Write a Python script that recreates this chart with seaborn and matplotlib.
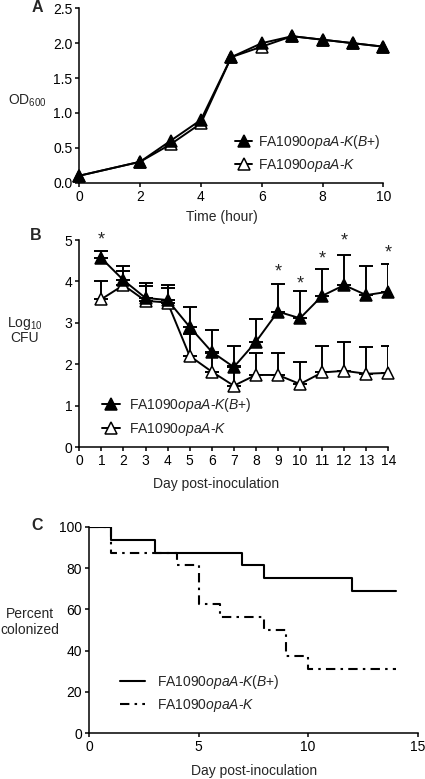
import numpy as np
import pandas as pd
import matplotlib
matplotlib.use("Agg")
import matplotlib.pyplot as plt
import seaborn as sns
from matplotlib.lines import Line2D

# ---- panel A: growth curve ----
hours = [0, 2, 3, 4, 5, 6, 7, 8, 9, 10]
od_bplus = [0.10, 0.30, 0.60, 0.90, 1.80, 2.00, 2.10, 2.05, 2.00, 1.95]
od_k = [0.10, 0.30, 0.55, 0.85, 1.80, 1.95, 2.10, 2.05, 2.00, 1.95]

# ---- panel B: colonization load ----
days = list(range(1, 15))
cfu_bplus = [4.56, 4.03, 3.60, 3.55, 2.90, 2.30, 1.93, 2.54, 3.27, 3.11, 3.65, 3.91, 3.67, 3.75]
cfu_bplus_top = [4.73, 4.38, 3.95, 3.91, 3.39, 2.83, 2.44, 3.09, 3.94, 3.77, 4.30, 4.64, 4.38, 4.43]
cfu_k = [3.57, 3.91, 3.53, 3.49, 2.20, 1.82, 1.48, 1.74, 1.74, 1.52, 1.80, 1.84, 1.77, 1.79]
cfu_k_top = [4.00, 4.25, 3.89, 3.85, 2.73, 2.27, 1.95, 2.28, 2.27, 2.06, 2.44, 2.53, 2.41, 2.44]
star_days = [1, 9, 10, 11, 12, 14]
star_y = [5.14, 4.37, 4.08, 4.68, 5.10, 4.83]

# ---- panel C: percent colonized ----
surv_days_bplus = [0, 1, 3, 7, 8, 12, 14]
surv_bplus = [100, 93.75, 87.5, 81.25, 75, 68.75, 68.75]
surv_days_k = [0, 1, 4, 5, 6, 8, 9, 10, 14]
surv_k = [100, 87.5, 81.25, 62.5, 56.25, 50, 37.5, 31.25, 31.25]

lab_bplus = r"FA1090$\mathit{opaA}$-$\mathit{K(B{+})}$"
lab_k = r"FA1090$\mathit{opaA}$-$\mathit{K}$"

sns.set_theme(style="ticks")
plt.rcParams["font.family"] = ["Liberation Sans", "DejaVu Sans"]
plt.rcParams["mathtext.fontset"] = "custom"
plt.rcParams["mathtext.rm"] = "Liberation Sans"
plt.rcParams["mathtext.it"] = "Liberation Sans:italic"
plt.rcParams["font.size"] = 10
plt.rcParams["xtick.labelsize"] = 10
plt.rcParams["ytick.labelsize"] = 10
plt.rcParams["axes.linewidth"] = 1.1
plt.rcParams["xtick.major.width"] = 1.1
plt.rcParams["ytick.major.width"] = 1.1
plt.rcParams["xtick.major.size"] = 3
plt.rcParams["ytick.major.size"] = 3

W, H = 425, 779
fig = plt.figure(figsize=(W / 100, H / 100), dpi=100)


def px_axes(l, r, t, b):
    return fig.add_axes([l / W, 1 - b / H, (r - l) / W, (b - t) / H])


def ftext(x, y, s, **kw):
    fig.text(x / W, 1 - y / H, s, ha="center", va="center", **kw)


def style(ax):
    sns.despine(ax=ax)
    ax.tick_params(colors="black", pad=2)
    for sp in ax.spines.values():
        sp.set_color("black")


tri = dict(marker="^", markersize=8, markeredgecolor="black", markeredgewidth=1.1)

# ---- A ----
axA = px_axes(79.3, 383.3, 8.3, 182.7)
dfA = pd.DataFrame({"hour": hours, "bplus": od_bplus, "k": od_k})
sns.lineplot(data=dfA, x="hour", y="k", ax=axA, color="black", lw=1.4,
             markerfacecolor="white", clip_on=False, zorder=3, **tri)
sns.lineplot(data=dfA, x="hour", y="bplus", ax=axA, color="black", lw=1.4,
             markerfacecolor="black", clip_on=False, zorder=4, **tri)
axA.set_xlim(0, 10)
axA.set_ylim(0, 2.5)
axA.set_xticks(range(0, 11, 2))
axA.set_yticks(np.arange(0, 2.51, 0.5))
axA.yaxis.set_major_formatter(matplotlib.ticker.FormatStrFormatter("%.1f"))
axA.set_xlabel("")
axA.set_ylabel("")
style(axA)

# ---- B ----
axB = px_axes(79.3, 388.3, 240, 447)
dfB = pd.DataFrame({"day": days, "bplus": cfu_bplus, "k": cfu_k})
axB.errorbar(days, cfu_k, yerr=[np.zeros(len(days)), np.array(cfu_k_top) - np.array(cfu_k)],
             fmt="none", ecolor="black", elinewidth=1.4, capsize=5, capthick=1.4, zorder=2)
sns.lineplot(data=dfB, x="day", y="k", ax=axB, color="black", lw=1.4,
             markerfacecolor="white", clip_on=False, zorder=3, **tri)
axB.errorbar(days, cfu_bplus, yerr=[np.zeros(len(days)), np.array(cfu_bplus_top) - np.array(cfu_bplus)],
             fmt="none", ecolor="black", elinewidth=1.4, capsize=5, capthick=1.4, zorder=4)
sns.lineplot(data=dfB, x="day", y="bplus", ax=axB, color="black", lw=1.4,
             markerfacecolor="black", clip_on=False, zorder=5, **tri)
for d, s in zip(star_days, star_y):
    axB.annotate("*", (d, s), xytext=(0, -4), textcoords="offset points",
                 ha="center", va="center", fontsize=13, annotation_clip=False)
axB.set_xlim(0, 14)
axB.set_ylim(0, 5)
axB.set_xticks(range(0, 15))
axB.set_yticks(range(0, 6))
axB.set_xlabel("")
axB.set_ylabel("")
style(axB)

# ---- C ----
axC = px_axes(89, 417.7, 526.7, 733.3)
dfCb = pd.DataFrame({"day": surv_days_bplus, "pct": surv_bplus})
dfCk = pd.DataFrame({"day": surv_days_k, "pct": surv_k})
dashdot = (0, (4.5, 2.5, 1.2, 2.5))
sns.lineplot(data=dfCk, x="day", y="pct", ax=axC, color="black", lw=1.5,
             drawstyle="steps-post", linestyle=dashdot, estimator=None, zorder=3)
sns.lineplot(data=dfCb, x="day", y="pct", ax=axC, color="black", lw=1.5,
             drawstyle="steps-post", estimator=None, zorder=4)
axC.set_xlim(0, 15)
axC.set_ylim(0, 100)
axC.set_xticks([0, 5, 10, 15])
axC.set_yticks(range(0, 101, 20))
axC.set_xlabel("")
axC.set_ylabel("")
style(axC)

# ---- legends ----
leg_kw = dict(frameon=False, loc="upper left", bbox_transform=fig.transFigure,
              borderpad=0, borderaxespad=0, prop={"size": 10})
hA = [Line2D([], [], color="black", lw=1.4, markerfacecolor="black", **tri),
      Line2D([], [], color="black", lw=1.4, markerfacecolor="white", **tri)]
axA.legend(hA, [lab_bplus, lab_k], bbox_to_anchor=(235 / W, 1 - 133 / H),
           handlelength=1.25, handletextpad=0.4, labelspacing=0.45, **leg_kw)
axB.legend(hA, [lab_bplus, lab_k], bbox_to_anchor=(102 / W, 1 - 396 / H),
           handlelength=1.3, handletextpad=0.65, labelspacing=0.5, **leg_kw)
hC = [Line2D([], [], color="black", lw=1.5),
      Line2D([], [], color="black", lw=1.5, linestyle=dashdot)]
axC.legend(hC, [lab_bplus, lab_k], bbox_to_anchor=(120 / W, 1 - 673 / H),
           handlelength=1.8, handletextpad=0.85, labelspacing=0.4, **leg_kw)

# ---- labels ----
ftext(37.5, 8, "A", fontweight="bold", fontsize=11.5)
ftext(36, 235, "B", fontweight="bold", fontsize=11.5)
ftext(37, 525, "C", fontweight="bold", fontsize=11.5)
ftext(27, 101, r"OD$_{600}$")
ftext(25, 330, "Log$_{10}$\nCFU", multialignment="center", linespacing=1.0)
ftext(30, 622, "Percent\ncolonized", multialignment="center", linespacing=1.1)
ftext(222, 217.5, "Time (hour)")
ftext(216, 484, "Day post-inoculation")
ftext(254, 771, "Day post-inoculation")

fig.savefig("out.png", dpi=100)
